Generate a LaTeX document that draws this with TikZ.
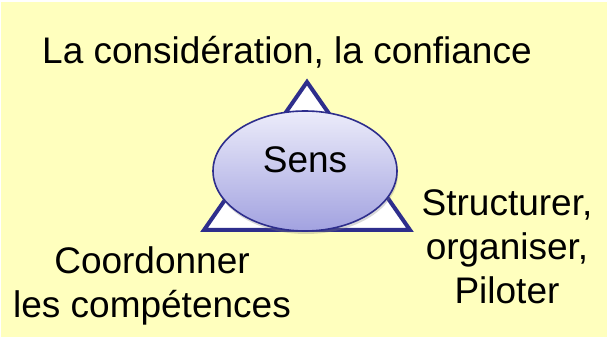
\documentclass[tikz,border=0pt]{standalone}
\usepackage{fontspec}
\setmainfont{Liberation Sans}
\usetikzlibrary{shapes.geometric,shadows}
\definecolor{bgyellow}{RGB}{255,255,190}
\definecolor{darkblue}{RGB}{46,46,140}
\definecolor{elltop}{RGB}{236,236,250}
\definecolor{ellbot}{RGB}{162,162,224}
\tikzset{
  lbl/.style={font=\fontsize{37}{44}\selectfont, inner sep=0pt, align=center, text=black},
  tri/.style={draw=darkblue, line width=4pt, fill=white, line join=miter},
  sensell/.style={ellipse, draw=darkblue, line width=1.6pt, inner sep=0pt,
    minimum width=184pt, minimum height=120pt,
    top color=elltop, bottom color=ellbot,
    drop shadow={opacity=0.3, shadow xshift=1pt, shadow yshift=-3pt},
    font=\fontsize{37}{44}\selectfont, text height=27pt, text depth=24pt}
}
\begin{document}
\begin{tikzpicture}[x=1pt,y=-1pt]
\useasboundingbox (0,0) rectangle (616,339);
\fill[bgyellow] (1,2) rectangle (607,337);
\coordinate (apex) at (307,82);
\coordinate (bl) at (204,230);
\coordinate (br) at (410,230);
\draw[tri] (apex) -- (bl) -- (br) -- cycle;
\node[sensell] (sens) at (305,171) {Sens};
\node[lbl, anchor=base west] (top) at (42,64) {La considération, la confiance};
\node[lbl, anchor=base] (right) at (507,303) {Structurer,\\organiser,\\Piloter};
\node[lbl, anchor=base] (left) at (152,317) {Coordonner\\les compétences};
\end{tikzpicture}
\end{document}
